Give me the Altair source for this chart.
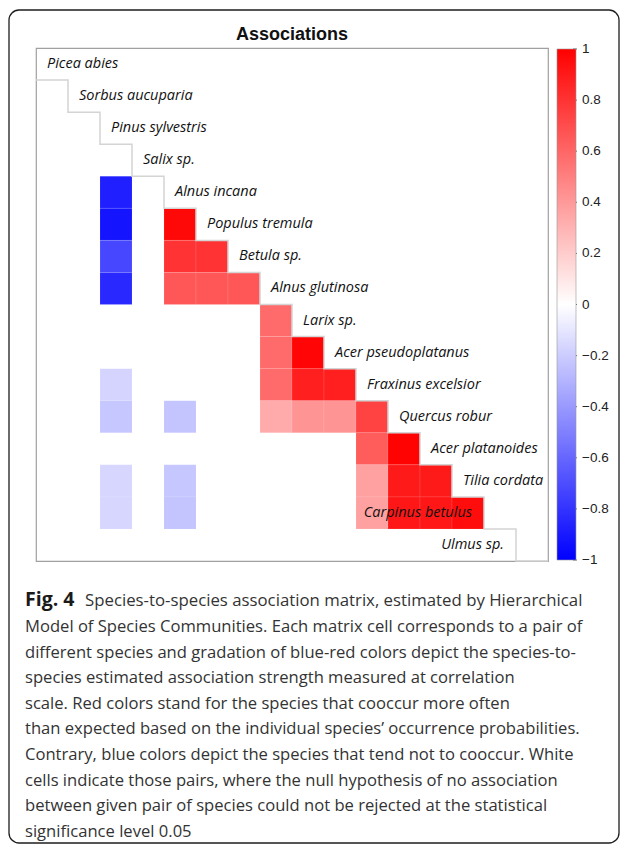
import altair as alt
import pandas as pd

species = [
    "Picea abies", "Sorbus aucuparia", "Pinus sylvestris", "Salix sp.",
    "Alnus incana", "Populus tremula", "Betula sp.", "Alnus glutinosa",
    "Larix sp.", "Acer pseudoplatanus", "Fraxinus excelsior", "Quercus robur",
    "Acer platanoides", "Tilia cordata", "Carpinus betulus", "Ulmus sp.",
]

# significant associations (row species, column species, correlation)
pair_row = [
    "Alnus incana",
    "Populus tremula", "Populus tremula",
    "Betula sp.", "Betula sp.", "Betula sp.",
    "Alnus glutinosa", "Alnus glutinosa", "Alnus glutinosa", "Alnus glutinosa",
    "Larix sp.",
    "Acer pseudoplatanus", "Acer pseudoplatanus",
    "Fraxinus excelsior", "Fraxinus excelsior", "Fraxinus excelsior", "Fraxinus excelsior",
    "Quercus robur", "Quercus robur", "Quercus robur", "Quercus robur", "Quercus robur", "Quercus robur",
    "Acer platanoides", "Acer platanoides",
    "Tilia cordata", "Tilia cordata", "Tilia cordata", "Tilia cordata", "Tilia cordata",
    "Carpinus betulus", "Carpinus betulus", "Carpinus betulus", "Carpinus betulus",
    "Carpinus betulus", "Carpinus betulus",
]
pair_col = [
    "Pinus sylvestris",
    "Pinus sylvestris", "Alnus incana",
    "Pinus sylvestris", "Alnus incana", "Populus tremula",
    "Pinus sylvestris", "Alnus incana", "Populus tremula", "Betula sp.",
    "Alnus glutinosa",
    "Alnus glutinosa", "Larix sp.",
    "Pinus sylvestris", "Alnus glutinosa", "Larix sp.", "Acer pseudoplatanus",
    "Pinus sylvestris", "Alnus incana", "Alnus glutinosa", "Larix sp.", "Acer pseudoplatanus", "Fraxinus excelsior",
    "Fraxinus excelsior", "Quercus robur",
    "Pinus sylvestris", "Alnus incana", "Fraxinus excelsior", "Quercus robur", "Acer platanoides",
    "Pinus sylvestris", "Alnus incana", "Fraxinus excelsior", "Quercus robur",
    "Acer platanoides", "Tilia cordata",
]
assoc = [
    -0.88,
    -0.92, 0.97,
    -0.72, 0.80, 0.80,
    -0.84, 0.66, 0.66, 0.66,
    0.58,
    0.58, 0.98,
    -0.17, 0.58, 0.88, 0.88,
    -0.22, -0.23, 0.33, 0.42, 0.42, 0.74,
    0.64, 0.99,
    -0.16, -0.22, 0.37, 0.90, 0.90,
    -0.16, -0.23, 0.37, 0.91, 0.91, 0.95,
]

colorbar_ticks = [1, 0.8, 0.6, 0.4, 0.2, 0, -0.2, -0.4, -0.6, -0.8, -1]
title_text = "Associations"
right_aligned = ["Carpinus betulus", "Ulmus sp."]

caption_lead = "Fig. 4"
caption_first = "Species-to-species association matrix, estimated by Hierarchical"
caption_lines = [
    "Model of Species Communities. Each matrix cell corresponds to a pair of",
    "different species and gradation of blue-red colors depict the species-to-",
    "species estimated association strength measured at correlation",
    "scale. Red colors stand for the species that cooccur more often",
    "than expected based on the individual species\u2019 occurrence probabilities.",
    "Contrary, blue colors depict the species that tend not to cooccur. White",
    "cells indicate those pairs, where the null hypothesis of no association",
    "between given pair of species could not be rejected at the statistical",
    "significance level 0.05",
]

n = len(species)
idx = {s: i for i, s in enumerate(species)}

cells = pd.DataFrame({"row": pair_row, "col": pair_col, "value": assoc})
cells["c0"] = cells["col"].map(idx)
cells["c1"] = cells["c0"] + 1
cells["r0"] = cells["row"].map(idx)
cells["r1"] = cells["r0"] + 1

stair_x, stair_y = [], []
for i in range(n):
    stair_x += [i, i + 1]
    stair_y += [i + 1, i + 1]
stairs_df = pd.DataFrame({"sx": stair_x, "sy": stair_y, "k": range(len(stair_x))})

labels_df = pd.DataFrame({"name": species, "i": range(n)})
labels_df["ly"] = labels_df["i"] + 0.5
labels_df["right"] = labels_df["name"].isin(right_aligned)

ticks_df = pd.DataFrame({"t": colorbar_ticks})
ticks_df["lab"] = [("%g" % v).replace("-", "\u2212") for v in colorbar_ticks]

W, H = 512, 513
CB_X, CB_Y, CB_W, CB_H = 521, 1, 19, 511
xs = alt.Scale(domain=[0, n], nice=False, zero=False)
ys = alt.Scale(domain=[0, n], nice=False, zero=False, reverse=True)
cbs = alt.Scale(domain=[-1, 1], range=[CB_Y + CB_H, CB_Y], nice=False, zero=False)
one = pd.DataFrame({"a": [0]})

frame = alt.Chart(one).mark_rect(
    fill="transparent", stroke="#1e1e1e", strokeWidth=1.3, cornerRadius=10
).encode(x=alt.value(-27), x2=alt.value(583), y=alt.value(-38), y2=alt.value(795))

heat = alt.Chart(cells).mark_rect(stroke="#ffffff", strokeWidth=0.3, strokeOpacity=0.35).encode(
    x=alt.X("c0:Q", scale=xs, axis=None),
    x2="c1:Q",
    y=alt.Y("r0:Q", scale=ys, axis=None),
    y2="r1:Q",
    color=alt.Color(
        "value:Q",
        scale=alt.Scale(domain=[-1, 0, 1], range=["#0000ff", "#ffffff", "#ff0000"], interpolate="rgb"),
        legend=alt.Legend(
            orient="none", legendX=CB_X, legendY=CB_Y, direction="vertical",
            gradientLength=CB_H, gradientThickness=CB_W, title=None,
            values=[0], labelExpr="''", labelOpacity=0, labelFontSize=1,
            gradientStrokeColor="#999999", gradientStrokeWidth=0.6,
        ),
    ),
)

stairs = alt.Chart(stairs_df).mark_line(color="#d4d4d4", strokeWidth=1.5).encode(
    x=alt.X("sx:Q", scale=xs, axis=None),
    y=alt.Y("sy:Q", scale=ys, axis=None),
    order="k:Q",
)

labels_l = alt.Chart(labels_df).transform_filter("!datum.right").mark_text(
    align="left", baseline="middle", dx=11, font="Open Sans", fontStyle="italic",
    fontSize=14.5, color="#111111"
).encode(
    x=alt.X("i:Q", scale=xs, axis=None),
    y=alt.Y("ly:Q", scale=ys, axis=None),
    text="name:N",
)

labels_r = alt.Chart(labels_df).transform_filter("datum.right").mark_text(
    align="right", baseline="middle", dx=-12, font="Open Sans", fontStyle="italic",
    fontSize=14.5, color="#111111"
).encode(
    x=alt.X("i:Q", scale=xs, axis=None),
    y=alt.Y("ly:Q", scale=ys, axis=None),
    text="name:N",
)

cb_ticks = alt.Chart(ticks_df).mark_rule(color="#666666", strokeWidth=1).encode(
    x=alt.value(CB_X + CB_W - 3), x2=alt.value(CB_X + CB_W + 1),
    y=alt.Y("t:Q", scale=cbs, axis=None),
)

cb_labels = alt.Chart(ticks_df).mark_text(
    align="left", baseline="middle", font="Liberation Sans", fontSize=13.5,
    color="#222222"
).encode(
    x=alt.value(CB_X + CB_W + 6),
    y=alt.Y("t:Q", scale=cbs, axis=None),
    text="lab:N",
)

cb_layer = alt.layer(cb_ticks, cb_labels)

title = alt.Chart(one).mark_text(
    text=title_text, font="Liberation Sans", fontSize=18, fontWeight="bold",
    align="center", baseline="middle", color="#111111"
).encode(x=alt.value(W / 2), y=alt.value(-13))

cap_lead = alt.Chart(one).mark_text(
    text=caption_lead, font="Open Sans", fontSize=19.5, fontWeight="bold",
    align="left", baseline="top", color="#1a1a1a"
).encode(x=alt.value(-11), y=alt.value(543))

cap_first = alt.Chart(one).mark_text(
    text=caption_first, font="Open Sans", fontSize=16.8,
    align="left", baseline="top", color="#333333"
).encode(x=alt.value(49), y=alt.value(545))

cap_rest = alt.Chart(one).mark_text(
    text=caption_lines, font="Open Sans", fontSize=16.6, lineHeight=25.6,
    align="left", baseline="top", color="#333333"
).encode(x=alt.value(-11), y=alt.value(571))

chart = alt.layer(
    frame, heat, stairs, labels_l, labels_r, title, cap_lead, cap_first, cap_rest, cb_layer
).resolve_scale(y="independent").properties(
    width=W, height=H,
    autosize=alt.AutoSizeParams(type="none"),
    padding={"left": 28, "top": 40, "right": 73, "bottom": 283},
    background="white",
).configure_view(stroke="#a0a0a0", strokeWidth=1.2)

chart.save("out.html", embed_options={"renderer": "svg", "actions": False})
